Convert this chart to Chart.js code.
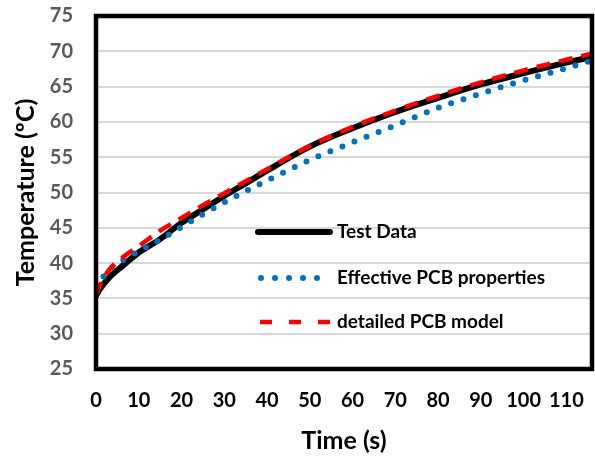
<!DOCTYPE html>
<html>
<head>
<meta charset="utf-8">
<script src="https://cdn.jsdelivr.net/npm/chart.js@4.4.1/dist/chart.umd.min.js"></script>
<style>
  html, body { margin: 0; padding: 0; background: #ffffff; }
  #wrap { width: 595px; height: 456px; position: relative; }
</style>
</head>
<body>
<div id="wrap"><canvas id="c" width="595" height="456"></canvas></div>
<script>
// ---- Data ----
const time = [0, 1, 3, 6, 10, 15, 20, 25, 30, 35, 40, 50, 60, 70, 80, 90, 100, 110, 116];
const testData =     [35.4, 36.4, 37.9, 39.5, 41.5, 43.4, 45.7, 47.6, 49.5, 51.3, 53.1, 56.5, 59.1, 61.4, 63.4, 65.3, 66.9, 68.4, 69.2];
const effectivePCB = [36.6, 37.5, 39.0, 40.3, 41.7, 43.3, 45.1, 46.9, 48.6, 50.2, 51.7, 54.6, 57.1, 59.5, 62.0, 64.0, 65.9, 67.6, 68.7];
const detailedPCB =  [35.4, 37.0, 39.0, 40.7, 42.4, 44.6, 46.4, 48.2, 49.9, 51.6, 53.3, 56.6, 59.3, 61.6, 63.7, 65.6, 67.3, 68.8, 69.7];
const seriesNames = ['Test Data', 'Effective PCB properties', 'detailed PCB model'];
const xTicks = [0, 10, 20, 30, 40, 50, 60, 70, 80, 90, 100, 110];
const yTicks = [25, 30, 35, 40, 45, 50, 55, 60, 65, 70, 75];

const FONT = 'Lato, "Open Sans", "Liberation Sans", sans-serif';
const toPts = (ys) => time.map((t, i) => ({ x: t, y: ys[i] }));

const frameAndLegend = {
  id: 'frameAndLegend',
  afterDatasetsDraw(chart) {
    const { ctx, chartArea: a } = chart;
    ctx.save();
    // plot border
    ctx.strokeStyle = '#000000';
    ctx.lineWidth = 4.5;
    ctx.strokeRect(a.left, a.top, a.right - a.left, a.bottom - a.top);
    // legend inside plot
    const x0 = a.left + 162, x1 = a.left + 234, tx = a.left + 241;
    const rows = [a.top + 216, a.top + 262, a.top + 306];
    ctx.lineCap = 'round';
    // Test Data
    ctx.strokeStyle = '#000000'; ctx.lineWidth = 6; ctx.setLineDash([]);
    ctx.beginPath(); ctx.moveTo(x0, rows[0]); ctx.lineTo(x1, rows[0]); ctx.stroke();
    // Effective (dots)
    ctx.strokeStyle = '#0070C0'; ctx.lineWidth = 6; ctx.setLineDash([0, 14]);
    ctx.beginPath(); ctx.moveTo(x0 + 3, rows[1]); ctx.lineTo(x1 - 10, rows[1]); ctx.stroke();
    // detailed (dashes)
    ctx.strokeStyle = '#FF0000'; ctx.lineWidth = 4.5; ctx.lineCap = 'butt'; ctx.setLineDash([12, 17]);
    ctx.beginPath(); ctx.moveTo(x0 + 2, rows[2]); ctx.lineTo(x1, rows[2]); ctx.stroke();
    ctx.setLineDash([]);
    ctx.fillStyle = '#000000';
    ctx.font = 'bold 19px ' + FONT;
    ctx.textBaseline = 'middle';
    ctx.textAlign = 'left';
    seriesNames.forEach((n, i) => ctx.fillText(n, tx, rows[i]));
    ctx.restore();
  }
};

new Chart(document.getElementById('c'), {
  type: 'line',
  data: {
    datasets: [
      {
        label: seriesNames[0], data: toPts(testData),
        borderColor: '#000000', borderWidth: 6, pointRadius: 0,
        cubicInterpolationMode: 'monotone', borderCapStyle: 'round', order: 3
      },
      {
        label: seriesNames[1], data: toPts(effectivePCB),
        borderColor: '#0070C0', borderWidth: 6, pointRadius: 0,
        borderDash: [0, 13], borderCapStyle: 'round',
        cubicInterpolationMode: 'monotone', order: 2
      },
      {
        label: seriesNames[2], data: toPts(detailedPCB),
        borderColor: '#FF0000', borderWidth: 4.5, pointRadius: 0,
        borderDash: [14, 9], borderCapStyle: 'butt',
        cubicInterpolationMode: 'monotone', order: 1
      }
    ]
  },
  options: {
    responsive: false,
    animation: false,
    devicePixelRatio: 1,
    layout: { padding: { left: 0, right: 3, top: 16, bottom: 0 } },
    plugins: { legend: { display: false }, tooltip: { enabled: false } },
    scales: {
      x: {
        type: 'linear', min: 0, max: 116,
        afterBuildTicks: (s) => { s.ticks = xTicks.map(v => ({ value: v })); },
        afterFit: (s) => { s.height = 87; s.paddingLeft = 0; s.paddingRight = 0; },
        grid: { display: false, drawTicks: false },
        border: { display: false },
        ticks: { color: '#000000', font: { family: FONT, size: 20, weight: 'bold' }, padding: 20, maxRotation: 0, autoSkip: false },
        title: { display: true, text: 'Time (s)', color: '#000000', font: { family: FONT, size: 25, weight: 'bold' }, padding: { top: 0, bottom: 0 } }
      },
      y: {
        type: 'linear', min: 25, max: 75,
        afterBuildTicks: (s) => { s.ticks = yTicks.map(v => ({ value: v })); },
        afterFit: (s) => { s.width = 96; s.paddingTop = 0; s.paddingBottom = 0; },
        grid: { color: '#D9D9D9', lineWidth: 2, drawTicks: false },
        border: { display: false },
        ticks: { color: '#595959', font: { family: FONT, size: 20, weight: 'bold' }, padding: 23 },
        title: { display: true, text: 'Temperature (ºC)', color: '#000000', font: { family: FONT, size: 25, weight: 'bold' }, padding: { top: 11, bottom: 0 } }
      }
    }
  },
  plugins: [frameAndLegend]
});
</script>
</body>
</html>
